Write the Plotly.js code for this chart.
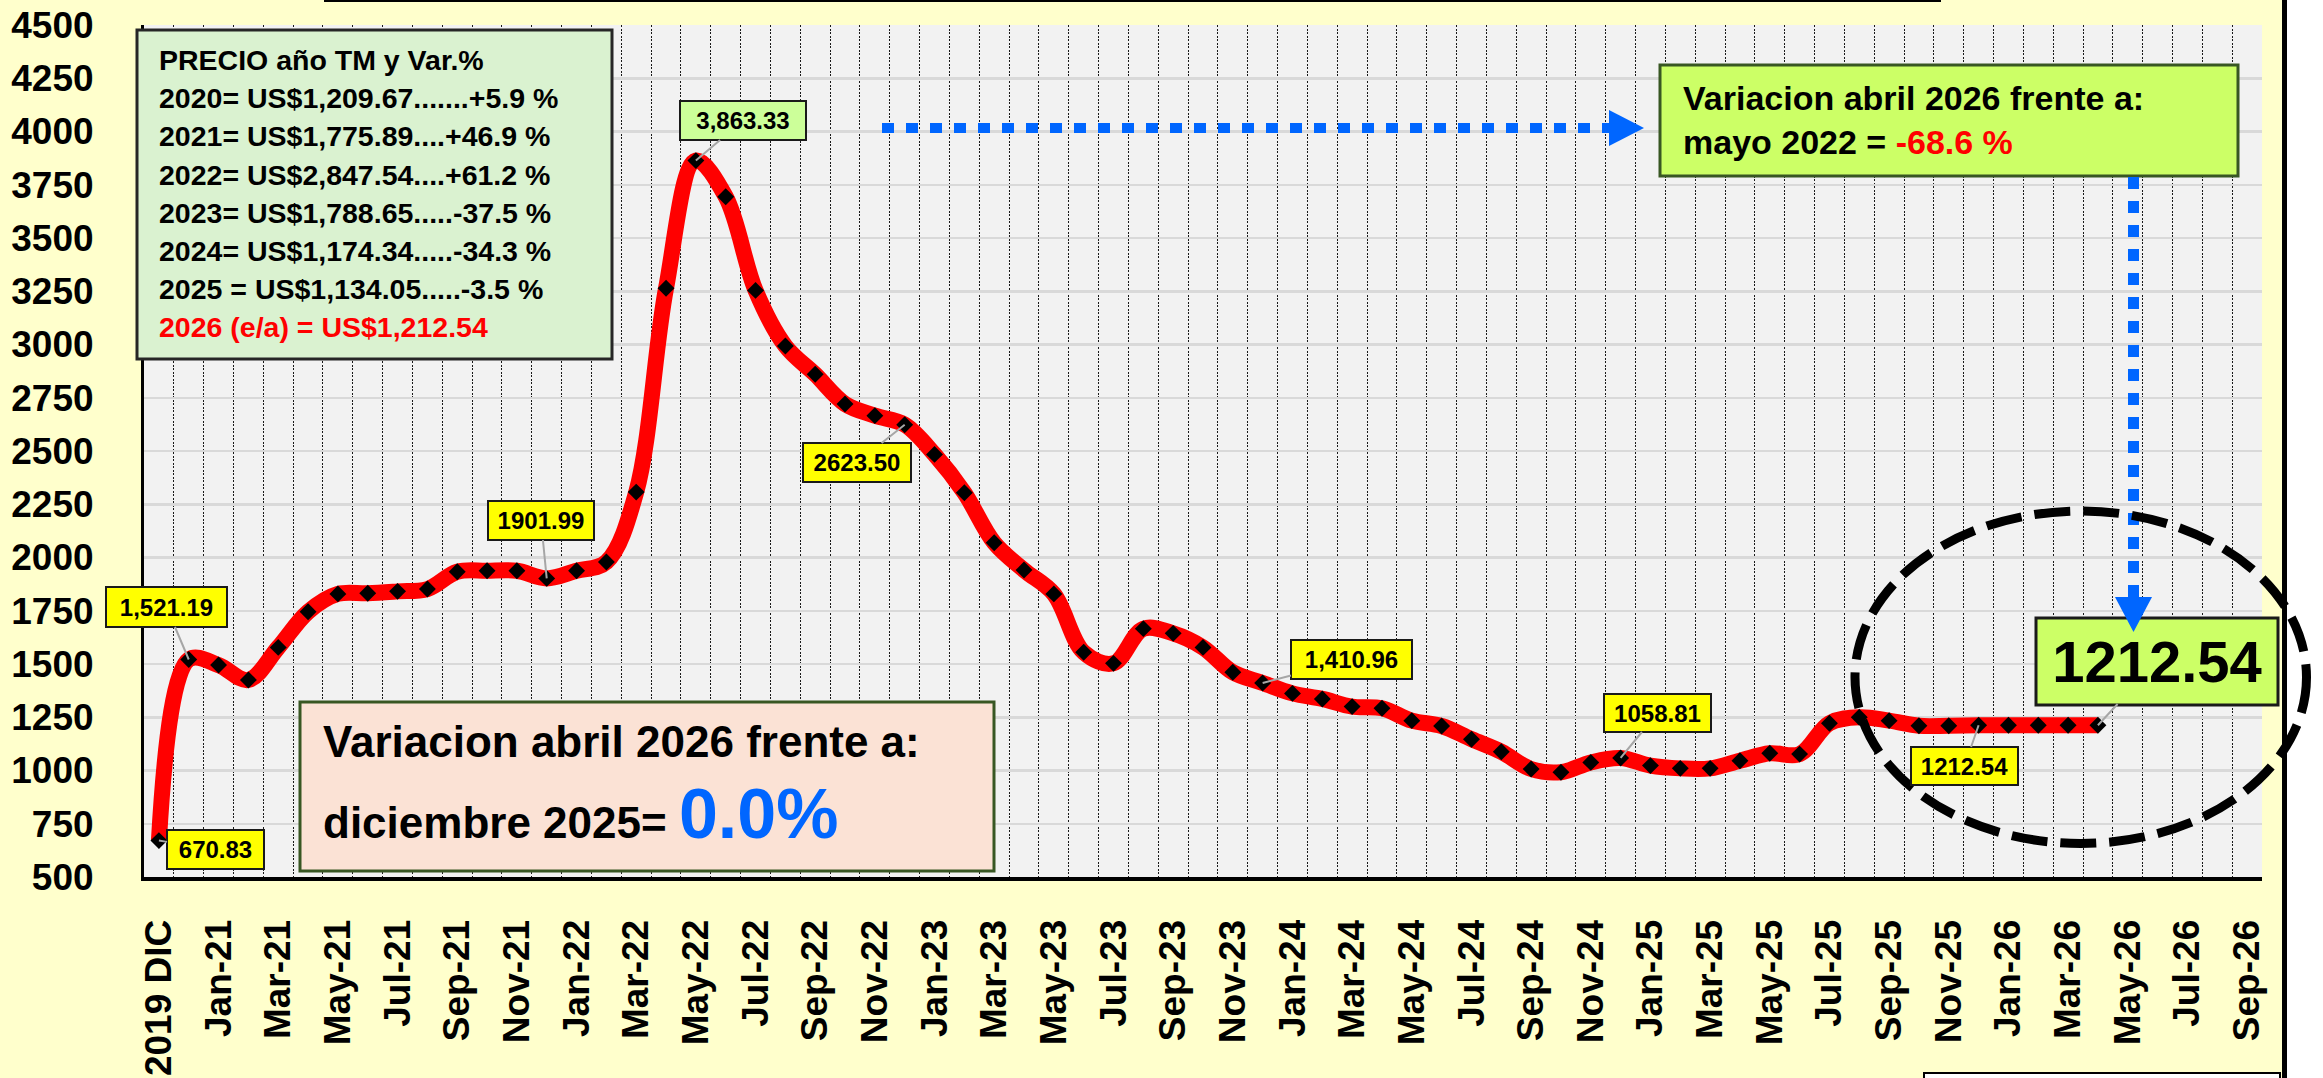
<!DOCTYPE html>
<html>
<head>
<meta charset="utf-8">
<script src="https://cdn.plot.ly/plotly-3.0.1.min.js"></script>
<style>
html,body{margin:0;padding:0;background:#ffffff;}
#chart{width:2323px;height:1078px;}
</style>
</head>
<body>
<div id="chart"></div>
<script>
// ---------------- DATA ----------------
const categories = [
  "2019 DIC","Dec-20",
  "Jan-21","Feb-21","Mar-21","Apr-21","May-21","Jun-21","Jul-21","Aug-21","Sep-21","Oct-21","Nov-21","Dec-21",
  "Jan-22","Feb-22","Mar-22","Apr-22","May-22","Jun-22","Jul-22","Aug-22","Sep-22","Oct-22","Nov-22","Dec-22",
  "Jan-23","Feb-23","Mar-23","Apr-23","May-23","Jun-23","Jul-23","Aug-23","Sep-23","Oct-23","Nov-23","Dec-23",
  "Jan-24","Feb-24","Mar-24","Apr-24","May-24","Jun-24","Jul-24","Aug-24","Sep-24","Oct-24","Nov-24","Dec-24",
  "Jan-25","Feb-25","Mar-25","Apr-25","May-25","Jun-25","Jul-25","Aug-25","Sep-25","Oct-25","Nov-25","Dec-25",
  "Jan-26","Feb-26","Mar-26","Apr-26","May-26","Jun-26","Jul-26","Aug-26","Sep-26"
];
const precio = [
  670.83, 1521.19,
  1495, 1425, 1578, 1745, 1829, 1832, 1841, 1852, 1933, 1938, 1938, 1901.99,
  1938, 1979, 2307, 3264, 3863.33, 3694, 3254, 2993, 2860, 2721, 2666, 2623.50,
  2484, 2304, 2069, 1941, 1829, 1555, 1503, 1666, 1644, 1578, 1461, 1410.96,
  1362, 1336, 1300, 1292, 1234, 1209, 1147, 1088, 1007, 992, 1038, 1058.81,
  1023, 1010, 1010, 1046, 1081, 1077, 1222, 1250, 1234, 1210, 1210, 1212.54,
  1212.54, 1212.54, 1212.54, 1212.54
];
const yTicks = [500,750,1000,1250,1500,1750,2000,2250,2500,2750,3000,3250,3500,3750,4000,4250,4500];
const calloutIdx  = [0, 1, 13, 18, 25, 37, 49, 61];
const calloutText = ["670.83","1,521.19","1901.99","3,863.33","2623.50","1,410.96","1058.81","1212.54"];
const legendLines = [
  "PRECIO año TM y Var.%",
  "2020= US$1,209.67.......+5.9 %",
  "2021= US$1,775.89....+46.9 %",
  "2022= US$2,847.54....+61.2 %",
  "2023= US$1,788.65.....-37.5 %",
  "2024= US$1,174.34.....-34.3 %",
  "2025 = US$1,134.05.....-3.5 %",
  "2026 (e/a) = US$1,212.54"
];
const varMayoLine1 = "Variacion abril 2026 frente a:";
const varMayoLine2 = "mayo 2022 = ";
const varMayoValue = "-68.6 %";
const varDicLine1 = "Variacion abril 2026 frente a:";
const varDicLine2 = "diciembre 2025= ";
const varDicValue = "0.0%";
const lastLabel = "1212.54";

// ---------------- GEOMETRY ----------------
const W = 2323, H = 1078, ML = 144, MR = 61, MT = 25, MB = 201;
const PW = W - ML - MR, PH = H - MT - MB;
const NCAT = categories.length;
const px = X => (X - ML) / PW;
const py = Y => (H - MB - Y) / PH;
const xPix = i => ML + (i + 0.5) * PW / NCAT;
const yPix = v => MT + (4500 - v) / 4000 * PH;
const FONT = "Liberation Sans, Arial, sans-serif";

const xIdx = precio.map((_, i) => i);
const tickVals = categories.map((_, i) => i).filter(i => i % 2 === 0);
const tickText = tickVals.map(i => categories[i]);

const trace = {
  x: xIdx, y: precio, type: "scatter", mode: "lines+markers",
  line: {color: "#FF0000", width: 16, shape: "spline", smoothing: 1},
  marker: {symbol: "diamond", size: 13, color: "#000000", line: {width: 0}},
  hoverinfo: "skip", cliponaxis: false
};

// ---------------- SHAPES ----------------
function rectPx(x0, y0, x1, y1, fill, lc, lw) {
  return {type: "rect", xref: "paper", yref: "paper", layer: "above",
    x0: px(x0), x1: px(x1), y0: py(y1), y1: py(y0),
    fillcolor: fill, line: {color: lc, width: lw}};
}
function linePx(x0, y0, x1, y1, color, width, dash) {
  return {type: "line", xref: "paper", yref: "paper", layer: "above",
    x0: px(x0), x1: px(x1), y0: py(y0), y1: py(y1),
    line: {color: color, width: width, dash: dash || "solid"}};
}
function triPx(pts, color) {
  const p = pts.map((q, k) => (k === 0 ? "M" : "L") + px(q[0]) + "," + py(q[1])).join(" ") + " Z";
  return {type: "path", xref: "paper", yref: "paper", layer: "above", path: p,
    fillcolor: color, line: {color: color, width: 0}};
}

const BLUE = "#0066FF";
const shapes = [
  rectPx(137, 30, 612, 359, "#DAF2D0", "#262626", 3),
  rectPx(1660, 65, 2238, 176, "#CCFF66", "#385723", 3),
  rectPx(300, 702, 994, 871, "#FBE2D5", "#385723", 3),
  linePx(882, 128, 1609, 128, BLUE, 10, "12px,12px"),
  triPx([[1609, 110], [1644, 128], [1609, 146]], BLUE),
  rectPx(2036, 618, 2278, 705, "#CCFF66", "#1A1A1A", 3),
  linePx(2133.5, 177, 2133.5, 597, BLUE, 11, "12px,12px"),
  triPx([[2115, 597], [2152, 597], [2133.5, 632]], BLUE),
  // right white strip and frame
  rectPx(2287, -10, 2340, 1090, "#FFFFFF", "rgba(0,0,0,0)", 0),
  linePx(2284.5, -5, 2284.5, 1090, "#000000", 5),
  linePx(324, 0.5, 1941, 0.5, "#000000", 3),
  rectPx(1924, 1073, 2280, 1095, "#FFFFFF", "#000000", 2),
  // dashed ellipse
  {type: "circle", xref: "paper", yref: "paper", layer: "above",
   x0: px(1855), x1: px(2306.5), y0: py(843.5), y1: py(511),
   fillcolor: "rgba(0,0,0,0)", line: {color: "#000000", width: 9, dash: "36px,13px"}}
];

// ---------------- ANNOTATIONS ----------------
const annotations = [];
legendLines.forEach((t, k) => {
  annotations.push({xref: "paper", yref: "paper", x: px(157), y: py(60 + 38.2 * k),
    xanchor: "left", yanchor: "middle", showarrow: false, text: "<b>" + t + "</b>",
    font: {family: FONT, size: 28.5, color: k === legendLines.length - 1 ? "#FF0000" : "#000000"}});
});
annotations.push({xref: "paper", yref: "paper", x: px(1681), y: py(98), xanchor: "left", yanchor: "middle",
  showarrow: false, text: "<b>" + varMayoLine1 + "</b>", font: {family: FONT, size: 34, color: "#000000"}});
annotations.push({xref: "paper", yref: "paper", x: px(1681), y: py(142), xanchor: "left", yanchor: "middle",
  showarrow: false, text: "<b>" + varMayoLine2 + "<span style='color:#FF0000'>" + varMayoValue + "</span></b>",
  font: {family: FONT, size: 34, color: "#000000"}});
annotations.push({xref: "paper", yref: "paper", x: px(321), y: py(741), xanchor: "left", yanchor: "middle",
  showarrow: false, text: "<b>" + varDicLine1 + "</b>", font: {family: FONT, size: 44, color: "#000000"}});
annotations.push({xref: "paper", yref: "paper", x: px(321), y: py(814), xanchor: "left", yanchor: "middle",
  showarrow: false,
  text: "<b>" + varDicLine2 + "<span style='font-size:70px;color:" + BLUE + "'>" + varDicValue + "</span></b>",
  font: {family: FONT, size: 44, color: "#000000"}});

// callouts: box pixel rects
const calloutBox = [
  [166, 829, 265, 870, "#FFFF00"],
  [105, 586, 228, 628, "#FFFF00"],
  [487, 500, 595, 541, "#FFFF00"],
  [679, 100, 807, 141, "#CCFF99"],
  [802, 442, 912, 483, "#FFFF00"],
  [1290, 639, 1413, 680, "#FFFF00"],
  [1603, 693, 1712, 733, "#FFFF00"],
  [1910, 746, 2019, 786, "#FFFF00"]
];
calloutIdx.forEach((i, k) => {
  const b = calloutBox[k];
  const cx = (b[0] + b[2]) / 2, cy = (b[1] + b[3]) / 2;
  annotations.push({x: i, y: precio[i], xref: "x", yref: "y",
    ax: cx - xPix(i), ay: cy - yPix(precio[i]), axref: "pixel", ayref: "pixel",
    showarrow: true, arrowhead: 0, arrowwidth: 2, arrowcolor: "#A6A6A6", standoff: 0,
    text: "<b>" + calloutText[k] + "</b>", font: {family: FONT, size: 24, color: "#000000"},
    bgcolor: b[4], bordercolor: "#1A1A1A", borderwidth: 2, borderpad: 0,
    width: b[2] - b[0] - 4, height: b[3] - b[1] - 4, align: "center", valign: "middle"});
});
// big last-value label
const li = precio.length - 1;
annotations.push({x: li, y: precio[li], xref: "x", yref: "y",
  ax: 2157 - xPix(li), ay: 661.5 - yPix(precio[li]), axref: "pixel", ayref: "pixel",
  showarrow: true, arrowhead: 0, arrowwidth: 2, arrowcolor: "#A6A6A6", standoff: 0,
  text: "<b>" + lastLabel + "</b>", font: {family: FONT, size: 58, color: "#000000"},
  bgcolor: "rgba(0,0,0,0)", borderwidth: 0, borderpad: 0, width: 240, height: 85});

const layout = {
  width: W, height: H,
  margin: {l: ML, r: MR, t: MT, b: MB, pad: 0},
  paper_bgcolor: "#FFFFCC", plot_bgcolor: "#F2F2F2",
  showlegend: false,
  xaxis: {
    type: "linear", range: [-0.5, NCAT - 0.5], fixedrange: true,
    tickmode: "array", tickvals: tickVals, ticktext: tickText, tickangle: -90,
    tickfont: {family: FONT, size: 37, color: "#000000", weight: "bold"},
    ticks: "", ticklabelstandoff: 24,
    showgrid: false, zeroline: false,
    showline: true, linecolor: "#000000", linewidth: 4,
    minor: {tickmode: "linear", tick0: -0.5, dtick: 1, showgrid: true,
            gridcolor: "#1A1A1A", gridwidth: 1, griddash: "2px,1.5px", ticks: ""}
  },
  yaxis: {
    range: [500, 4500], fixedrange: true, tickmode: "array", tickvals: yTicks,
    tickfont: {family: FONT, size: 37, color: "#000000", weight: "bold"},
    ticks: "", ticklabelstandoff: 40,
    showgrid: true, gridcolor: "#D9D9D9", gridwidth: 2.5, zeroline: false,
    showline: true, linecolor: "#000000", linewidth: 3
  },
  shapes: shapes,
  annotations: annotations
};

Plotly.newPlot("chart", [trace], layout, {displayModeBar: false, staticPlot: true});
</script>
</body>
</html>
